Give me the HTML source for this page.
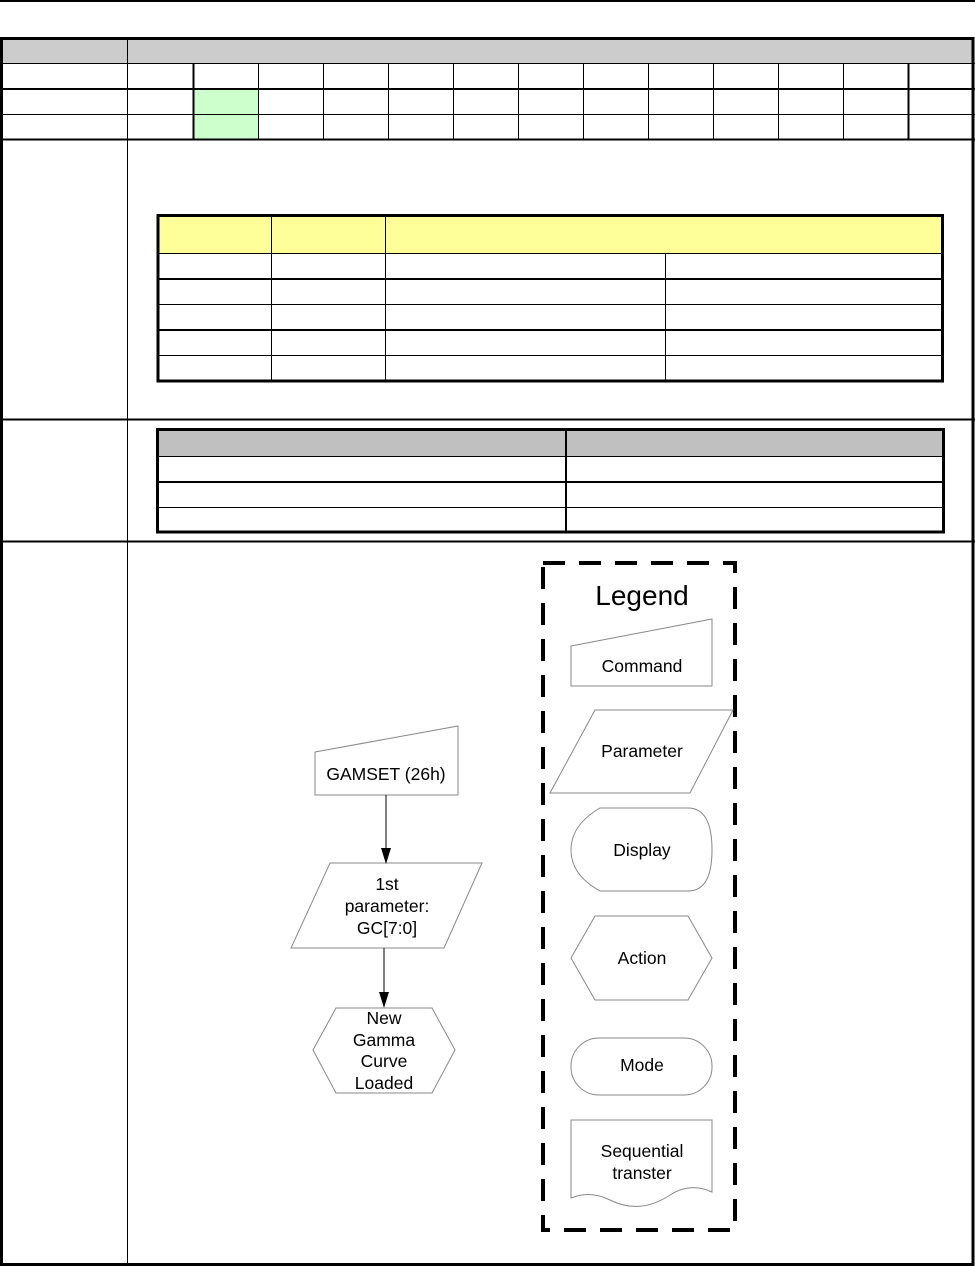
<!DOCTYPE html>
<html><head><meta charset="utf-8"><style>
html,body{margin:0;padding:0;background:#fff;}
svg{display:block;font-family:"Liberation Sans",Arial,sans-serif;}
</style></head><body>
<svg width="975" height="1266" viewBox="0 0 975 1266" xmlns="http://www.w3.org/2000/svg">
<rect x="0" y="0" width="975" height="2" fill="#000"/>
<rect x="2" y="39" width="971" height="24" fill="#cccccc"/>
<rect x="193" y="89" width="65" height="50" fill="#ccffcc"/>
<g stroke="#000" fill="none">
<line x1="0" y1="63.5" x2="975" y2="63.5" stroke-width="1"/>
<line x1="0" y1="89" x2="975" y2="89" stroke-width="2"/>
<line x1="0" y1="114.5" x2="975" y2="114.5" stroke-width="1"/>
<line x1="0" y1="139.5" x2="975" y2="139.5" stroke-width="2"/>
<line x1="0" y1="419.5" x2="975" y2="419.5" stroke-width="2"/>
<line x1="0" y1="541.5" x2="975" y2="541.5" stroke-width="2"/>
<line x1="127.5" y1="39" x2="127.5" y2="1266" stroke-width="1"/>
<g stroke-width="1">
<line x1="258.5" y1="63" x2="258.5" y2="139"/>
<line x1="323.5" y1="63" x2="323.5" y2="139"/>
<line x1="388.5" y1="63" x2="388.5" y2="139"/>
<line x1="453.5" y1="63" x2="453.5" y2="139"/>
<line x1="518.5" y1="63" x2="518.5" y2="139"/>
<line x1="583.5" y1="63" x2="583.5" y2="139"/>
<line x1="648.5" y1="63" x2="648.5" y2="139"/>
<line x1="713.5" y1="63" x2="713.5" y2="139"/>
<line x1="778.5" y1="63" x2="778.5" y2="139"/>
<line x1="843.5" y1="63" x2="843.5" y2="139"/>
</g>
<line x1="193.5" y1="63" x2="193.5" y2="139" stroke-width="2"/>
<line x1="908.5" y1="63" x2="908.5" y2="139" stroke-width="2"/>
<rect x="1.5" y="38.5" width="971.5" height="1226" stroke-width="3"/>
</g>
<rect x="157" y="214" width="786" height="39" fill="#ffff99"/>
<g stroke="#000" fill="none">
<line x1="157" y1="253.5" x2="943" y2="253.5" stroke-width="1"/>
<line x1="157" y1="279" x2="943" y2="279" stroke-width="2"/>
<line x1="157" y1="304.5" x2="943" y2="304.5" stroke-width="1"/>
<line x1="157" y1="330" x2="943" y2="330" stroke-width="2"/>
<line x1="157" y1="355.5" x2="943" y2="355.5" stroke-width="1"/>
<line x1="271.5" y1="214" x2="271.5" y2="382" stroke-width="1"/>
<line x1="385.5" y1="214" x2="385.5" y2="382" stroke-width="1"/>
<line x1="665.5" y1="253" x2="665.5" y2="382" stroke-width="1"/>
<rect x="158" y="215.5" width="784.5" height="165.5" stroke-width="3"/>
</g>
<rect x="157" y="429" width="787" height="27" fill="#c0c0c0"/>
<g stroke="#000" fill="none">
<line x1="157" y1="456.5" x2="944" y2="456.5" stroke-width="1"/>
<line x1="157" y1="482" x2="944" y2="482" stroke-width="2"/>
<line x1="157" y1="507.5" x2="944" y2="507.5" stroke-width="1"/>
<line x1="566" y1="429" x2="566" y2="533" stroke-width="2"/>
<rect x="157.5" y="429.5" width="786" height="102.5" stroke-width="3"/>
</g>
<rect x="543" y="563" width="192" height="667" fill="none" stroke="#000" stroke-width="4" stroke-dasharray="22,14"/>
<text x="642" y="605" font-size="28" text-anchor="middle">Legend</text>
<g stroke="#888" stroke-width="1" fill="#fff">
<polygon points="571,646 712,619 712,686 571,686"/>
<polygon points="595,710 733,710 690,793 550,793"/>
<path d="M600,808 L688,808 Q712,808 712,850 Q712,891 688,891 L600,891 Q571,875 571,850 Q571,825 600,808 Z"/>
<polygon points="595,916 688,916 712,958 688,1000 595,1000 571,958"/>
<rect x="571" y="1038" width="141" height="57" rx="28"/>
<path d="M571,1120 L712,1120 L712,1192 Q690,1182 670,1195 Q640,1215 610,1200 Q590,1190 571,1198 Z"/>
<polygon points="315,752 458,726 458,795 315,795"/>
<polygon points="330,863 482,863 444,948 291,948"/>
<polygon points="336,1008 432,1008 455,1050 432,1093 336,1093 313,1050"/>
</g>
<g stroke="#000" stroke-width="1">
<line x1="386" y1="795" x2="386" y2="850"/>
<line x1="384" y1="948" x2="384" y2="995"/>
</g>
<polygon points="381,848 391,848 386,864" fill="#000"/>
<polygon points="379,992 389,992 384,1008" fill="#000"/>
<g font-size="17.5" text-anchor="middle" fill="#000">
<text x="642" y="672">Command</text>
<text x="642" y="757">Parameter</text>
<text x="642" y="856">Display</text>
<text x="642" y="964">Action</text>
<text x="642" y="1071">Mode</text>
<text x="642" y="1157">Sequential</text>
<text x="642" y="1179">transter</text>
<text x="386" y="780">GAMSET (26h)</text>
<text x="387" y="890">1st</text>
<text x="387" y="912">parameter:</text>
<text x="387" y="934">GC[7:0]</text>
<text x="384" y="1024">New</text>
<text x="384" y="1046">Gamma</text>
<text x="384" y="1067">Curve</text>
<text x="384" y="1089">Loaded</text>
</g>
</svg>
</body></html>
